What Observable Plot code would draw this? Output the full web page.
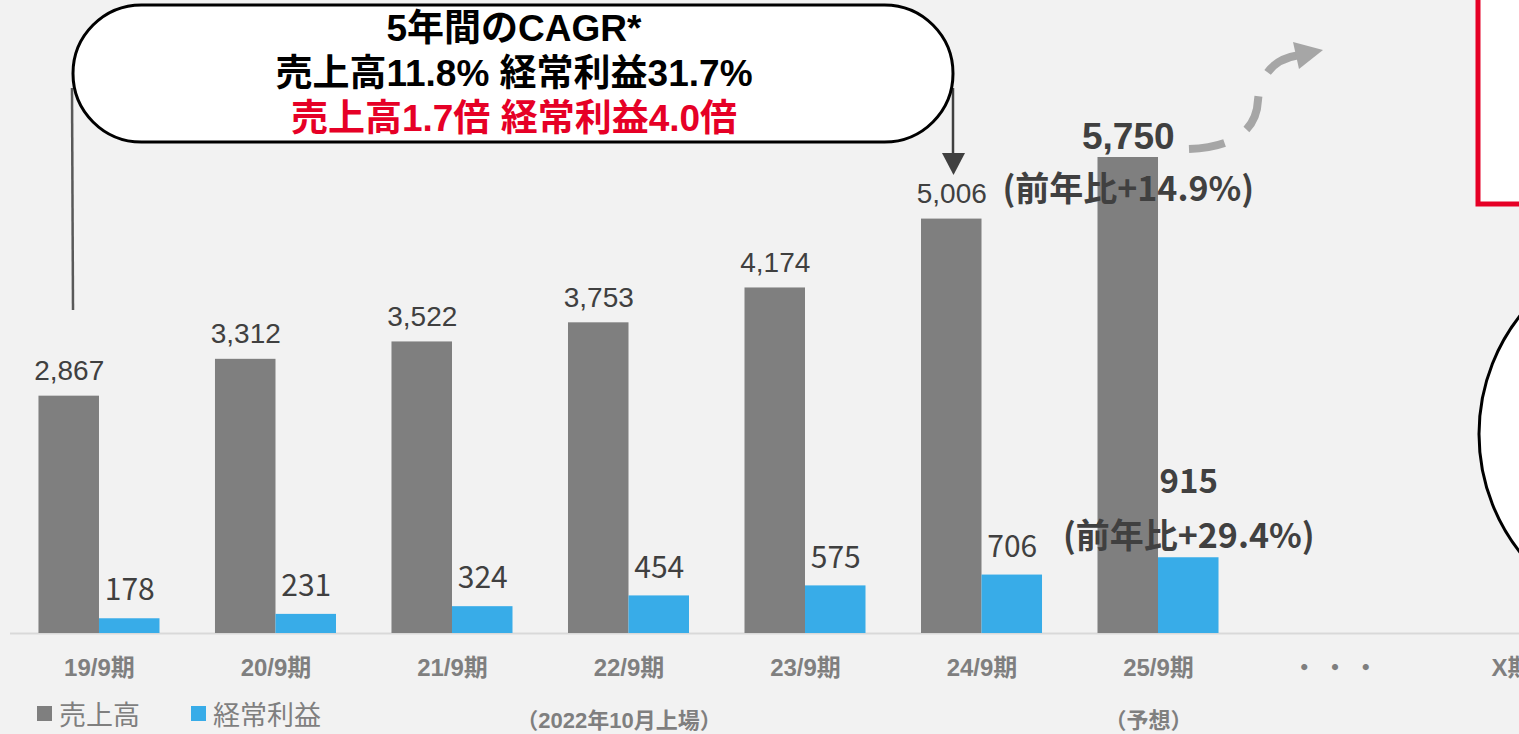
<!DOCTYPE html>
<html><head><meta charset="utf-8">
<script src="https://cdn.jsdelivr.net/npm/d3@7"></script>
<script src="https://cdn.jsdelivr.net/npm/@observablehq/plot@0.6"></script>
<style>
html,body{margin:0;padding:0;background:#f2f2f2;overflow:hidden;width:1519px;height:734px;}
#wrap{position:relative;width:1519px;height:734px;overflow:hidden;}
#wrap svg{position:absolute;left:0;top:0;max-width:none !important;width:1610px !important;height:734px !important;}
#legend{position:absolute;left:37px;top:700px;height:26px;display:flex;align-items:center;font-family:"Noto Sans CJK JP",sans-serif;font-size:27px;color:#7f7f7f;line-height:1;}
#legend .sw{width:15px;height:15px;display:inline-block;margin-right:7px;}
#legend .item{display:flex;align-items:center;margin-right:51px;}
</style></head><body><div id="wrap"></div>
<script>
// ---- data ----
const periods = ["19/9期","20/9期","21/9期","22/9期","23/9期","24/9期","25/9期"];
const sales   = [2867, 3312, 3522, 3753, 4174, 5006, 5750];
const profit  = [178, 231, 324, 454, 575, 706, 915];
const extraCats = ["・ ・ ・", "X期"];
const subLabelCats  = ["22/9期", "25/9期"];
const subLabelTexts = ["（2022年10月上場）", "（予想）"];
const seriesNames  = ["売上高", "経常利益"];
const seriesColors = ["#7f7f7f", "#38ace8"];
const salesYoY  = "(前年比+14.9%)";
const profitYoY = "(前年比+29.4%)";
const cagrLines = ["5年間のCAGR*", "売上高11.8% 経常利益31.7%", "売上高1.7倍 経常利益4.0倍"];

// ---- derived tables ----
const categories = periods.concat(extraCats);
const salesRows  = periods.map((p, i) => ({period: p, value: sales[i]}));
const profitRows = periods.map((p, i) => ({period: p, value: profit[i]}));
const lastP = periods[periods.length - 1];
const subRows = subLabelCats.map((c, i) => ({period: c, text: subLabelTexts[i]}));
const fmt = d3.format(",");

const W = 1610, H = 734;
const pIn = 0.3144, pOut = 0.218;
const step = W / (categories.length - pIn + 2 * pOut);
const half = step * (1 - pIn) / 2;

const LAT = "'Liberation Sans', 'Noto Sans CJK JP', sans-serif";
const CJK = "'Noto Sans CJK JP', sans-serif";

const chart = Plot.plot({
  width: W, height: H,
  marginLeft: 0, marginRight: 0, marginTop: 157, marginBottom: 101,
  style: {background: "transparent", fontFamily: LAT, maxWidth: "none"},
  x: {type: "band", domain: categories, paddingInner: pIn, paddingOuter: pOut, round: false, axis: null},
  y: {domain: [0, d3.max(sales)], axis: null},
  marks: [
    Plot.ruleY([0], {stroke: "#d9d9d9", strokeWidth: 2, insetLeft: 10}),
    Plot.barY(salesRows, {x: "period", y: "value", fill: seriesColors[0], insetRight: half}),
    Plot.barY(profitRows, {x: "period", y: "value", fill: seriesColors[1], insetLeft: half}),
    // value labels
    Plot.text(salesRows.filter(d => d.period !== lastP), {x: "period", y: "value", text: d => fmt(d.value),
      dx: -half / 2, dy: -25, fontSize: 28, fill: "#404040", fontFamily: LAT}),
    Plot.text(profitRows.filter(d => d.period !== lastP), {x: "period", y: "value", text: d => fmt(d.value),
      dx: half / 2, dy: -28, fontSize: 30, fill: "#404040", fontFamily: CJK}),
    Plot.text(salesRows.filter(d => d.period === lastP), {x: "period", y: "value", text: d => fmt(d.value),
      dx: -half / 2, dy: -20, fontSize: 37, fontWeight: "bold", fill: "#404040", fontFamily: LAT}),
    Plot.text(salesRows.filter(d => d.period === lastP), {x: "period", y: "value", text: () => salesYoY,
      dx: -half / 2, dy: 33, fontSize: 34, fontWeight: "bold", fill: "#404040", fontFamily: CJK}),
    Plot.text(profitRows.filter(d => d.period === lastP), {x: "period", y: "value", text: d => fmt(d.value),
      dx: half / 2, dy: -75, fontSize: 33, fontWeight: "bold", fill: "#404040", fontFamily: CJK}),
    Plot.text(profitRows.filter(d => d.period === lastP), {x: "period", y: "value", text: () => profitYoY,
      dx: half / 2, dy: -21, fontSize: 34, fontWeight: "bold", fill: "#404040", fontFamily: CJK}),
    // category labels
    Plot.text(categories, {x: d => d, y: () => 0, text: d => d, dy: 35, fontSize: 24, fontWeight: "bold",
      fill: "#7f7f7f", fontFamily: LAT}),
    Plot.text(subRows, {x: "period", y: () => 0, text: "text", dx: -10, dy: 87, fontSize: 22, fontWeight: "bold",
      fill: "#7f7f7f", fontFamily: LAT})
  ]
});

document.getElementById("wrap").appendChild(chart);

// ---- annotations ----
const svgSel = d3.select(chart);
const deco = svgSel.insert("g", ":first-child");
// red box (top right)
deco.append("rect").attr("x", 1478).attr("y", -10).attr("width", 200).attr("height", 214)
  .attr("fill", "#fff").attr("stroke", "#e60026").attr("stroke-width", 5);
// circle (right)
deco.append("circle").attr("cx", 1670).attr("cy", 434).attr("r", 191)
  .attr("fill", "#fff").attr("stroke", "#000").attr("stroke-width", 3);

const ann = svgSel.append("g");
// connector lines
ann.append("line").attr("x1", 72).attr("y1", 88).attr("x2", 73).attr("y2", 310)
  .attr("stroke", "#595959").attr("stroke-width", 2.5);
ann.append("line").attr("x1", 953).attr("y1", 88).attr("x2", 953).attr("y2", 156)
  .attr("stroke", "#404040").attr("stroke-width", 2.5);
ann.append("path").attr("d", "M942,153 L965,153 L953.5,175 Z").attr("fill", "#404040");
// callout
ann.append("rect").attr("x", 73).attr("y", 5).attr("width", 880).attr("height", 137).attr("rx", 68.5)
  .attr("fill", "#fff").attr("stroke", "#000").attr("stroke-width", 3);
const lineY = [28, 73, 118];
const lineC = ["#000", "#000", "#e60026"];
cagrLines.forEach((t, i) => {
  ann.append("text").attr("x", 514).attr("y", lineY[i]).attr("text-anchor", "middle")
    .attr("dominant-baseline", "central").attr("font-family", LAT).attr("font-weight", "bold")
    .attr("font-size", 37).attr("fill", lineC[i]).text(t);
});
// dashed growth arrow
ann.append("path").attr("d", "M1189,149 Q1256,146 1258,100 Q1262,60 1300,55")
  .attr("fill", "none").attr("stroke", "#a6a6a6").attr("stroke-width", 8).attr("stroke-dasharray", "36 26");
ann.append("path").attr("d", "M1293,42 L1323,50 L1299,69 Z").attr("fill", "#a6a6a6");

// legend
const lg = d3.select("#wrap").append("div").attr("id", "legend");
seriesNames.forEach((n, i) => {
  const it = lg.append("div").attr("class", "item");
  it.append("span").attr("class", "sw").style("background", seriesColors[i]);
  it.append("span").text(n);
});
</script></body></html>
